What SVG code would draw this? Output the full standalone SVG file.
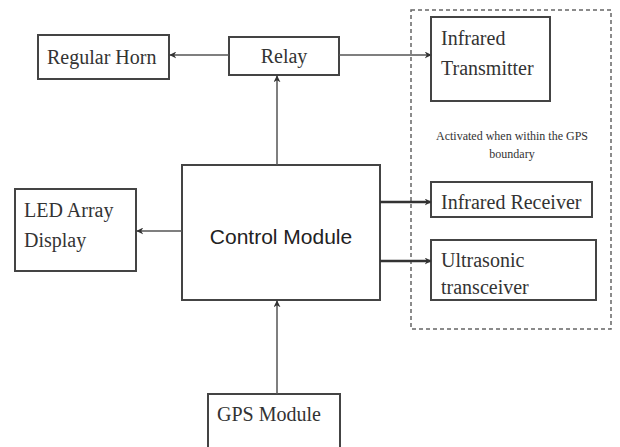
<svg xmlns="http://www.w3.org/2000/svg" width="620" height="447" viewBox="0 0 620 447">
<defs>
<marker id="arr" viewBox="0 0 10 10" refX="9" refY="5" markerWidth="7" markerHeight="7" markerUnits="userSpaceOnUse" orient="auto">
<path d="M0,0 L10,5 L0,10 L3,5 Z" fill="#333"/>
</marker>
<style>
.box{fill:#fff;stroke:#444;stroke-width:2}
.t{font-family:"Liberation Serif","Times New Roman",serif;font-size:20px;fill:#333}
.s{font-family:"Liberation Serif","Times New Roman",serif;font-size:12px;fill:#333}
.c{font-family:"Liberation Sans",Arial,sans-serif;font-size:21px;fill:#222}
.ln{stroke:#555;stroke-width:1.5;fill:none;marker-end:url(#arr)}
.lnb{stroke:#333;stroke-width:2.5;fill:none;marker-end:url(#arr)}
</style>
</defs>
<rect width="620" height="447" fill="#fff"/>
<rect x="411" y="10" width="200" height="319" fill="none" stroke="#666" stroke-width="1.5" stroke-dasharray="4,3"/>
<text class="s" x="512" y="140" text-anchor="middle">Activated when within the GPS</text>
<text class="s" x="512" y="158" text-anchor="middle">boundary</text>
<g id="regular-horn"><rect class="box" x="38" y="35" width="131" height="44"/><text class="t" x="47" y="64">Regular Horn</text></g>
<g id="relay"><rect class="box" x="229" y="37" width="110" height="38"/><text class="t" x="284" y="63" text-anchor="middle">Relay</text></g>
<g id="infrared-transmitter"><rect class="box" x="431" y="17" width="119" height="84"/><text class="t" x="441" y="45">Infrared</text><text class="t" x="441" y="75">Transmitter</text></g>
<g id="control-module"><rect class="box" x="182" y="165" width="198" height="135"/><text class="c" x="281" y="244" text-anchor="middle">Control Module</text></g>
<g id="led-array"><rect class="box" x="15" y="189" width="121" height="82"/><text class="t" x="24" y="217">LED Array</text><text class="t" x="24" y="247">Display</text></g>
<g id="infrared-receiver"><rect class="box" x="431" y="182" width="161" height="35"/><text class="t" x="441" y="209">Infrared Receiver</text></g>
<g id="ultrasonic"><rect class="box" x="431" y="240" width="165" height="60"/><text class="t" x="441" y="267">Ultrasonic</text><text class="t" x="441" y="294">transceiver</text></g>
<g id="gps-module"><rect class="box" x="208" y="394" width="132" height="60"/><text class="t" x="217" y="421">GPS Module</text></g>
<g id="connectors">
<line class="ln" x1="229" y1="55" x2="170" y2="55"/>
<line class="ln" x1="339" y1="55" x2="431" y2="55"/>
<line class="ln" x1="277" y1="165" x2="277" y2="76"/>
<line class="ln" x1="182" y1="231" x2="137" y2="231"/>
<line class="lnb" x1="380" y1="202" x2="431" y2="202"/>
<line class="lnb" x1="380" y1="261" x2="431" y2="261"/>
<line class="ln" x1="277" y1="394" x2="277" y2="301"/>
</g>
</svg>
